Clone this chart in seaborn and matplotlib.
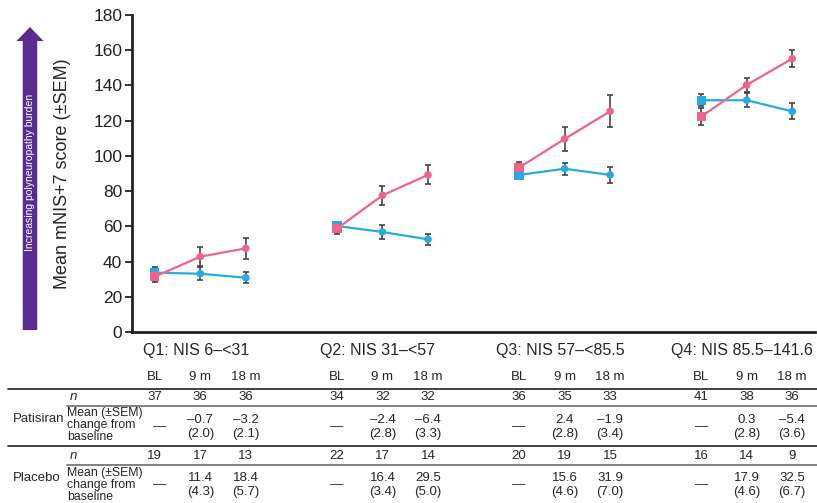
import numpy as np
import pandas as pd
import matplotlib
matplotlib.use("Agg")
import matplotlib.pyplot as plt
import matplotlib.transforms as mtransforms
from matplotlib.patches import FancyArrow
import seaborn as sns

# Quartile groups and visits
quartiles = ["Q1: NIS 6\u2013<31", "Q2: NIS 31\u2013<57", "Q3: NIS 57\u2013<85.5", "Q4: NIS 85.5\u2013141.6"]
times = ["BL", "9 m", "18 m"]

# Mean mNIS+7, 3 visits per quartile
patisiran_mean = [33.7, 33.1, 30.8, 60.2, 56.8, 52.6, 89.2, 92.7, 89.2, 131.6, 131.6, 125.3]
patisiran_sem = [3.0, 3.8, 3.0, 2.5, 3.8, 3.0, 2.5, 3.3, 4.5, 3.3, 4.0, 4.5]
placebo_mean = [31.4, 42.8, 47.5, 58.7, 77.6, 89.2, 93.3, 109.6, 125.3, 122.3, 140.3, 155.2]
placebo_sem = [3.0, 5.4, 5.8, 3.0, 5.3, 5.4, 3.5, 6.9, 9.1, 4.9, 4.0, 4.9]

# Table below the chart
patisiran_n = [37, 36, 36, 34, 32, 32, 36, 35, 33, 41, 38, 36]
patisiran_chg = ["\u2014", "\u20130.7\n(2.0)", "\u20133.2\n(2.1)",
                 "\u2014", "\u20132.4\n(2.8)", "\u20136.4\n(3.3)",
                 "\u2014", "2.4\n(2.8)", "\u20131.9\n(3.4)",
                 "\u2014", "0.3\n(2.8)", "\u20135.4\n(3.6)"]
placebo_n = [19, 17, 13, 22, 17, 14, 20, 19, 15, 16, 14, 9]
placebo_chg = ["\u2014", "11.4\n(4.3)", "18.4\n(5.7)",
               "\u2014", "16.4\n(3.4)", "29.5\n(5.0)",
               "\u2014", "15.6\n(4.6)", "31.9\n(7.0)",
               "\u2014", "17.9\n(4.6)", "32.5\n(6.7)"]

arms = ["Patisiran", "Placebo"]
colors = {"Patisiran": "#29ABE2", "Placebo": "#F0648C"}

# build long table
rows = []
for arm, means, sems in [("Patisiran", patisiran_mean, patisiran_sem),
                         ("Placebo", placebo_mean, placebo_sem)]:
    for i, (m, s) in enumerate(zip(means, sems)):
        q, t = divmod(i, 3)
        rows.append({"arm": arm, "quartile": quartiles[q], "time": times[t],
                     "x": q * 4 + t, "mean": m, "sem": s})
df = pd.DataFrame(rows)

sns.set_style("ticks")
plt.rcParams["font.family"] = ["Liberation Sans", "DejaVu Sans"]

fig = plt.figure(figsize=(8.17, 5.03), dpi=100)
# overlay in pixel coordinates for arrow and table
over = fig.add_axes([0, 0, 1, 1])
over.set_xlim(0, 817)
over.set_ylim(503, 0)
over.axis("off")

ax = fig.add_axes([132 / 817, 1 - 332 / 503, 683 / 817, 317 / 503])

for arm in arms:
    d = df[df.arm == arm]
    ax.errorbar(d["x"], d["mean"], yerr=d["sem"], fmt="none", ecolor="#444444",
                elinewidth=1.2, capsize=2, capthick=1.2, zorder=2)

sns.lineplot(data=df, x="x", y="mean", hue="arm", units="quartile", estimator=None,
             palette=colors, hue_order=arms, lw=1.6, legend=False, sort=False, ax=ax, zorder=3)
sns.scatterplot(data=df[df.time == "BL"], x="x", y="mean", hue="arm", hue_order=arms,
                palette=colors, marker="s", s=45, linewidth=0, legend=False, ax=ax, zorder=4)
sns.scatterplot(data=df[df.time != "BL"], x="x", y="mean", hue="arm", hue_order=arms,
                palette=colors, marker="o", s=30, linewidth=0, legend=False, ax=ax, zorder=4)

ax.set_xlim(-0.5, 14.5)
ax.set_ylim(0, 180)
ax.set_yticks(np.arange(0, 181, 20))
ax.set_xticks([])
ax.set_xlabel("")
ax.set_ylabel("Mean mNIS+7 score (\u00b1SEM)", fontsize=13)
ax.yaxis.set_label_coords(-0.09, 0.5)
ax.tick_params(axis="y", labelsize=12.5, length=5, width=1.3, pad=2, color="#222222",
               labelcolor="#222222")
for sp in ["top", "right"]:
    ax.spines[sp].set_visible(False)
for sp in ["left", "bottom"]:
    ax.spines[sp].set_linewidth(2)
    ax.spines[sp].set_color("#222222")

# arrow
over.add_patch(FancyArrow(30, 330, 0, -303, width=14.5, head_width=27, head_length=14,
                          length_includes_head=True, color="#5B2C8F", lw=0))
over.text(30, 172, "Increasing polyneuropathy burden", rotation=90, color="white",
          fontsize=7.5, ha="center", va="center")

# quartile labels and table, x from data coordinates
tr = mtransforms.blended_transform_factory(ax.transData, over.transData)
for q, lab in enumerate(quartiles):
    over.text(q * 4 + 0.9, 350, lab, transform=tr, ha="center", va="center", fontsize=11.5)

fs = 9.5
for i in range(12):
    xi = (i // 3) * 4 + i % 3
    over.text(xi, 377, times[i % 3], transform=tr, ha="center", va="center", fontsize=fs)
    over.text(xi, 397, str(patisiran_n[i]), transform=tr, ha="center", va="center", fontsize=fs)
    over.text(xi + (0.1 if i == 0 else 0), 427, patisiran_chg[i], transform=tr, ha="center",
              va="center", fontsize=fs, linespacing=1.2)
    over.text(xi, 456, str(placebo_n[i]), transform=tr, ha="center", va="center", fontsize=fs)
    over.text(xi + (0.1 if i == 0 else 0), 485, placebo_chg[i], transform=tr, ha="center",
              va="center", fontsize=fs, linespacing=1.2)

for y0 in [397, 456]:
    over.text(70, y0, "n", style="italic", ha="left", va="center", fontsize=fs)
over.text(67, 425, "Mean (\u00b1SEM)\nchange from\nbaseline", ha="left", va="center",
          fontsize=8.8, linespacing=1.05)
over.text(67, 485, "Mean (\u00b1SEM)\nchange from\nbaseline", ha="left", va="center",
          fontsize=8.8, linespacing=1.05)
over.text(13, 419, "Patisiran", ha="left", va="center", fontsize=fs)
over.text(13, 478, "Placebo", ha="left", va="center", fontsize=fs)

over.plot([8, 817], [389, 389], color="#333333", lw=1.3)
over.plot([67, 817], [406, 406], color="#777777", lw=1.3)
over.plot([8, 817], [446, 446], color="#333333", lw=1.3)
over.plot([67, 817], [465, 465], color="#777777", lw=1.3)

fig.savefig("out.png", dpi=100)
